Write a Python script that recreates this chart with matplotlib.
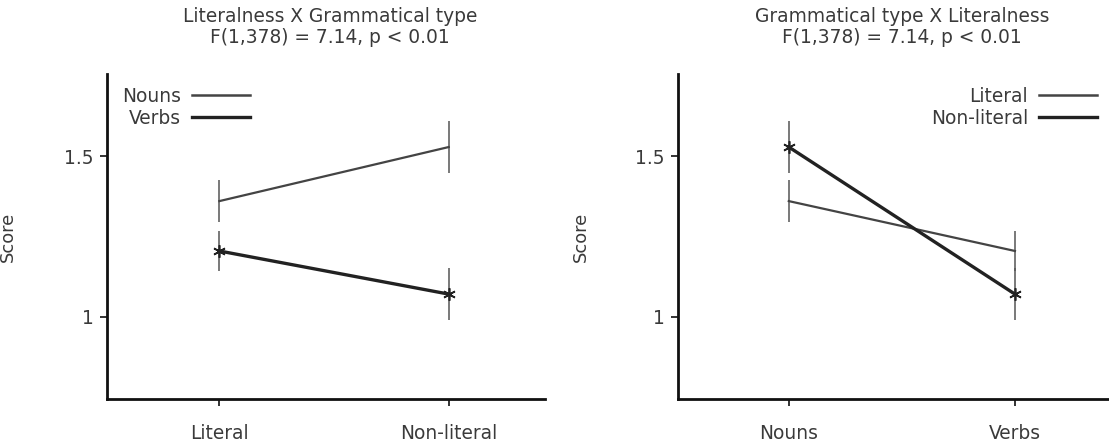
import matplotlib
matplotlib.use("Agg")
import matplotlib.pyplot as plt
from matplotlib.lines import Line2D

# data
literalness = ["Literal", "Non-literal"]
gram_types = ["Nouns", "Verbs"]
lit_labels = ["Literal", "Non-literal"]
nouns_score = [1.36, 1.528]
nouns_err = [0.065, 0.08]
verbs_score = [1.205, 1.071]
verbs_err = [0.062, 0.08]
literal_score = [1.36, 1.205]
literal_err = [0.065, 0.062]
nonlit_score = [1.528, 1.071]
nonlit_err = [0.08, 0.08]
yticks = [1, 1.5]
ytick_labels = ["1", "1.5"]
title_left = "Literalness X Grammatical type\nF(1,378) = 7.14, p < 0.01"
title_right = "Grammatical type X Literalness\nF(1,378) = 7.14, p < 0.01"

plt.rcParams["font.family"] = "DejaVu Sans"
txt_col = "#3a3a3a"
thin_col = "#444444"
thick_col = "#222222"
err_col = "#555555"
star = (6, 2, 0)
fs = 13.4

fig = plt.figure(figsize=(11.09, 4.44), dpi=100)
ax1 = fig.add_axes([107 / 1109, 45 / 444, 438 / 1109, 325 / 444])
ax2 = fig.add_axes([678 / 1109, 45 / 444, 431 / 1109, 325 / 444])


def style(ax, cats, xlim):
    for s in ["top", "right"]:
        ax.spines[s].set_visible(False)
    for s in ["left", "bottom"]:
        ax.spines[s].set_linewidth(2)
        ax.spines[s].set_color("#111111")
    ax.set_xlim(*xlim)
    ax.set_ylim(0.745, 1.755)
    ax.set_xticks(range(len(cats)))
    ax.set_xticklabels(cats, fontsize=fs, color=txt_col)
    ax.set_yticks(yticks)
    ax.set_yticklabels(ytick_labels, fontsize=fs, color=txt_col)
    ax.tick_params(axis="both", direction="out", length=5, width=1.2, color="#111111")
    ax.tick_params(axis="x", pad=13)
    ax.tick_params(axis="y", pad=4.5)
    ax.set_ylabel("Score", fontsize=fs - 0.5, color=txt_col)
    ax.yaxis.set_label_coords(-90 / 438, 0.5)


def draw(ax, x, y, err, col, lw, marker):
    ax.errorbar(x, y, yerr=err, fmt="none", ecolor=err_col, elinewidth=1.1, capsize=0)
    ax.plot(x, y, color=col, lw=lw, marker=marker, ms=9, mew=1.2, mec=thick_col)


xs = list(range(2))
draw(ax1, xs, nouns_score, nouns_err, thin_col, 1.6, None)
draw(ax1, xs, verbs_score, verbs_err, thick_col, 2.4, star)
style(ax1, literalness, (-0.49, 1.42))

draw(ax2, xs, literal_score, literal_err, thin_col, 1.6, None)
draw(ax2, xs, nonlit_score, nonlit_err, thick_col, 2.4, star)
style(ax2, gram_types, (-0.49, 1.416))

h_thin = Line2D([], [], color=thin_col, lw=1.8)
h_thick = Line2D([], [], color=thick_col, lw=2.4)

leg_kw = dict(bbox_transform=fig.transFigure, frameon=False, markerfirst=False, fontsize=fs,
              handlelength=3.1, handletextpad=0.6, labelspacing=0.15, borderpad=0,
              borderaxespad=0, labelcolor=txt_col)
ax1.legend([h_thin, h_thick], gram_types, loc="upper right",
           bbox_to_anchor=(250 / 1109, 1 - 87 / 444), **leg_kw)
ax2.legend([h_thin, h_thick], lit_labels, loc="upper right",
           bbox_to_anchor=(1097 / 1109, 1 - 87 / 444), **leg_kw)

fig.text(330 / 1109, 1 - 7 / 444, title_left, ha="center", va="top", fontsize=fs, color=txt_col,
         linespacing=1.15)
fig.text(902 / 1109, 1 - 7 / 444, title_right, ha="center", va="top", fontsize=fs, color=txt_col,
         linespacing=1.15)

fig.savefig("out.png", dpi=100, facecolor="white")
